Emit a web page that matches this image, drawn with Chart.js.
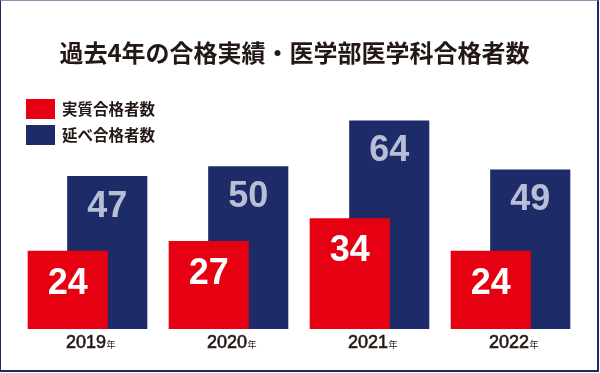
<!DOCTYPE html>
<html>
<head>
<meta charset="utf-8">
<script src="https://cdn.jsdelivr.net/npm/chart.js@4"></script>
<style>
  html, body { margin: 0; padding: 0; background: #ffffff; }
  #wrap { position: relative; width: 600px; height: 373px; overflow: hidden; background: #fff; }
  #wrap canvas { position: absolute; left: 0; top: 0; }
  #frame { position: absolute; left: 0; top: 0; width: 599px; height: 372px; box-sizing: border-box;
           border-left: 1px solid #1e2a66; border-top: 1px solid #8a91b3;
           border-right: 2px solid #1e2a66; border-bottom: 2px solid #1e2a66; pointer-events: none; }
  #title { position: absolute; left: 0; width: 589px; top: 36px; text-align: center;
           font-family: "Noto Sans CJK JP", sans-serif; font-weight: 700; font-size: 24px;
           line-height: 32px; color: #231815; letter-spacing: 0px; }
  .lg { position: absolute; left: 26px; height: 20px; font-family: "Noto Sans CJK JP", sans-serif;
        font-weight: 700; font-size: 15.5px; line-height: 20px; color: #231815; white-space: nowrap; }
  .lg span.box { position: absolute; left: 0; top: 0; width: 29px; height: 20px; }
  .lg span.txt { position: absolute; left: 36px; top: -1px; }
</style>
</head>
<body>
<div id="wrap">
  <canvas id="c" width="600" height="373"></canvas>
  <div id="title">過去4年の合格実績・医学部医学科合格者数</div>
  <div class="lg" style="top:99px"><span class="box" style="background:#e50012"></span><span class="txt">実質合格者数</span></div>
  <div class="lg" style="top:125px"><span class="box" style="background:#1d2b69"></span><span class="txt">延べ合格者数</span></div>
  <div id="frame"></div>
</div>
<script>
const years = ["2019", "2020", "2021", "2022"];
const yearSuffix = "年";
const seriesNames = ["実質合格者数", "延べ合格者数"];
const actualPasses = [24, 27, 34, 24];
const totalPasses = [47, 50, 64, 49];

const RED = "#e50012";
const NAVY = "#1d2b69";

const barLabels = {
  id: "barLabels",
  afterDatasetsDraw(chart) {
    const ctx = chart.ctx;
    ctx.save();
    ctx.textAlign = "center";
    ctx.textBaseline = "middle";
    ctx.font = "bold 36px 'Liberation Sans', Arial, sans-serif";
    const colors = ["#ffffff", "#b8bed6"];
    const offsets = [33, 31];
    [1, 0].forEach(di => {
      const meta = chart.getDatasetMeta(di);
      meta.data.forEach((bar, i) => {
        ctx.fillStyle = colors[di];
        ctx.fillText(String(chart.data.datasets[di].data[i]), bar.x, bar.y + offsets[di]);
      });
    });
    // category labels
    const xs = chart.scales.x;
    chart.data.labels.forEach((lab, i) => {
      const cx = xs.getPixelForValue(i) + 3;
      ctx.font = "18px 'Liberation Sans', Arial, sans-serif";
      const w1 = ctx.measureText(lab).width;
      ctx.font = "9px 'Noto Sans CJK JP', sans-serif";
      const w2 = ctx.measureText(yearSuffix).width;
      const start = cx - (w1 + w2) / 2;
      ctx.textAlign = "left";
      ctx.textBaseline = "alphabetic";
      ctx.fillStyle = "#231815";
      ctx.strokeStyle = "#231815";
      ctx.lineWidth = 0.6;
      ctx.font = "18px 'Liberation Sans', Arial, sans-serif";
      ctx.fillText(lab, start, 348);
      ctx.strokeText(lab, start, 348);
      ctx.font = "9px 'Noto Sans CJK JP', sans-serif";
      ctx.fillText(yearSuffix, start + w1 + 0.5, 348);
    });
    ctx.restore();
  }
};

new Chart(document.getElementById("c"), {
  type: "bar",
  data: {
    labels: years,
    datasets: [
      { label: seriesNames[0], data: actualPasses, backgroundColor: RED, borderWidth: 0 },
      { label: seriesNames[1], data: totalPasses, backgroundColor: NAVY, borderWidth: 0 }
    ]
  },
  options: {
    responsive: false,
    animation: false,
    devicePixelRatio: 1,
    categoryPercentage: 0.56,
    barPercentage: 2.03,
    layout: { padding: { left: 17, right: 19, top: 101, bottom: 44 } },
    plugins: { legend: { display: false }, tooltip: { enabled: false }, title: { display: false } },
    scales: {
      x: { display: false, offset: true, grid: { display: false } },
      y: { display: false, min: 0, max: 70 }
    }
  },
  plugins: [barLabels]
});
</script>
</body>
</html>
